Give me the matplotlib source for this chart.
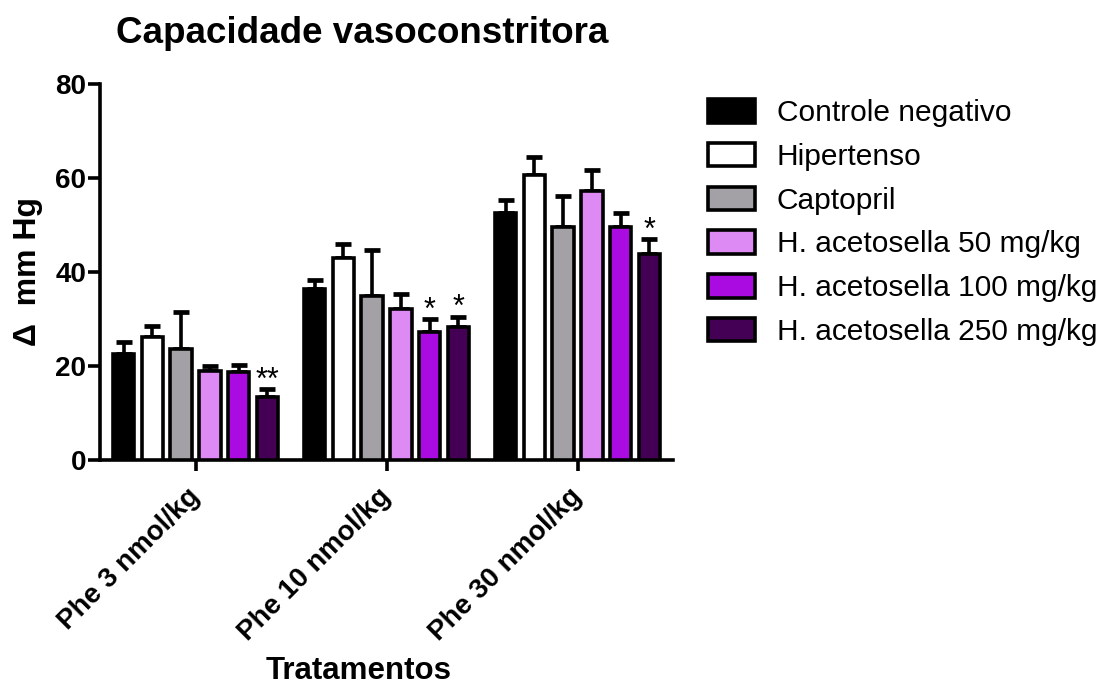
import matplotlib
matplotlib.use('Agg')
import matplotlib.pyplot as plt
import numpy as np

plt.rcParams['font.family'] = ['Liberation Sans', 'DejaVu Sans']

groups = ['Phe 3 nmol/kg', 'Phe 10 nmol/kg', 'Phe 30 nmol/kg']
series = ['Controle negativo', 'Hipertenso', 'Captopril',
          'H. acetosella 50 mg/kg', 'H. acetosella 100 mg/kg',
          'H. acetosella 250 mg/kg']
colors = ['#000000', '#ffffff', '#a3a1a6', '#de8af5', '#aa0be0', '#440054']

# mean values per series (rows) and group (columns)
means = [
    [22.5, 36.4, 52.6],
    [26.2, 43.0, 60.7],
    [23.7, 34.9, 49.6],
    [19.0, 32.2, 57.2],
    [18.7, 27.2, 49.6],
    [13.3, 28.3, 43.9],
]
errors = [
    [2.5, 2.0, 2.7],
    [2.4, 3.0, 3.8],
    [7.7, 9.8, 6.6],
    [1.1, 3.1, 4.6],
    [1.6, 2.7, 3.0],
    [1.7, 2.2, 3.1],
]
# significance marks: (series index, group index, text)
marks = [(5, 0, '**'), (4, 1, '*'), (5, 1, '*'), (5, 2, '*')]

fig = plt.figure(figsize=(11.14, 6.84), dpi=100)
ax = fig.add_axes([0.0898, 0.3275, 0.5144, 0.5497])

x = np.arange(len(groups))
step = 0.1506
width = 0.112
for i, name in enumerate(series):
    pos = x + (i - 2.5) * step
    ax.bar(pos, means[i], width, color=colors[i], edgecolor='black',
           linewidth=2.6, label=name, zorder=3)
    ax.errorbar(pos, means[i], yerr=[np.zeros(3), errors[i]], fmt='none',
                ecolor='black', elinewidth=2.6, capsize=5.5, capthick=3.4,
                zorder=2)

for i, g, txt in marks:
    px = x[g] + (i - 2.5) * step
    ax.text(px, means[i][g] + errors[i][g] + 0.1, txt, ha='center',
            va='baseline', fontsize=22)

ax.set_xlim(-0.5, 2.5)
ax.set_ylim(0, 80)
ax.set_yticks([0, 20, 40, 60, 80])
ax.set_xticks(x)
ax.set_xticklabels(groups, rotation=45, ha='right', va='center',
                   rotation_mode='anchor', fontsize=20, fontweight='bold')
for lab in ax.get_yticklabels():
    lab.set_fontweight('bold')
    lab.set_fontsize(20)
ax.tick_params(axis='y', length=9, width=2.6, pad=1)
ax.tick_params(axis='x', length=8, width=2.6, pad=15.5)
for s in ['top', 'right']:
    ax.spines[s].set_visible(False)
for s in ['left', 'bottom']:
    ax.spines[s].set_linewidth(2.6)

ax.set_ylabel('\u0394  mm Hg', fontsize=23, fontweight='bold', labelpad=9)
fig.text(0.3215, 0.008, 'Tratamentos', ha='center', va='baseline',
         fontsize=22.5, fontweight='bold')
fig.text(0.325, 0.9367, 'Capacidade vasoconstritora', ha='center',
         va='baseline', fontsize=26.5, fontweight='bold')

leg = ax.legend(loc='upper left', bbox_to_anchor=(0.6355, 0.855),
                bbox_transform=fig.transFigure, frameon=False, fontsize=21.5,
                handlelength=1.57, handleheight=0.84, labelspacing=0.52,
                handletextpad=0.74, borderpad=0, borderaxespad=0)

fig.savefig('out.png', dpi=100)
